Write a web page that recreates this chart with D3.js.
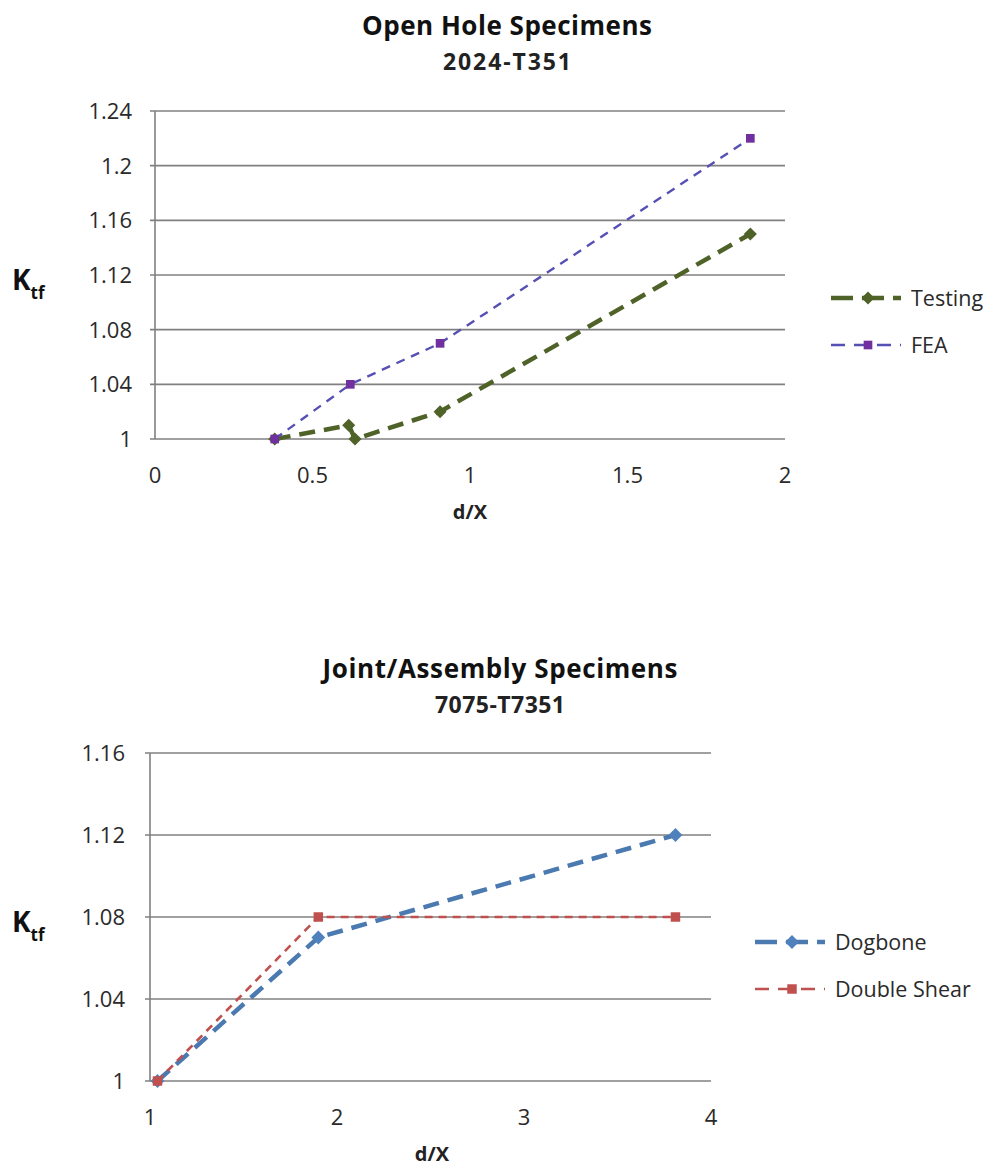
<!DOCTYPE html>
<html>
<head>
<meta charset="utf-8">
<script src="https://cdn.jsdelivr.net/npm/d3@7"></script>
<style>
  body { margin: 0; background: #fff; }
  svg { display: block; font-family: "Open Sans", Lato, sans-serif; }
</style>
</head>
<body>
<svg width="989" height="1168"></svg>
<script>
// top chart - open hole
const testingX = [0.38, 0.615, 0.635, 0.905, 1.89];
const testingY = [1.0, 1.01, 1.0, 1.02, 1.15];
const feaX = [0.38, 0.62, 0.905, 1.89];
const feaY = [1.0, 1.04, 1.07, 1.22];
const topXTicks = [0, 0.5, 1, 1.5, 2];
const topYTicks = [1, 1.04, 1.08, 1.12, 1.16, 1.2, 1.24];

// bottom chart - joints
const dogboneX = [1.04, 1.9, 3.81];
const dogboneY = [1.0, 1.07, 1.12];
const shearX = [1.04, 1.9, 3.81];
const shearY = [1.0, 1.08, 1.08];
const botXTicks = [1, 2, 3, 4];
const botYTicks = [1, 1.04, 1.08, 1.12, 1.16];

const svg = d3.select('svg');

function drawChart(opt) {
  const g = svg.append('g');
  const x = d3.scaleLinear().domain(opt.xDomain).range([opt.left, opt.right]);
  const y = d3.scaleLinear().domain(opt.yDomain).range([opt.bottom, opt.top]);

  // titles (widths)
  g.append('text').attr('x', opt.titleX).attr('y', opt.titleY)
    .attr('text-anchor', 'middle').attr('font-size', 26).attr('font-weight', 'bold')
    .attr('textLength', opt.titleW).attr('lengthAdjust', 'spacing')
    .attr('fill', '#111').text(opt.title);
  g.append('text').attr('x', opt.titleX).attr('y', opt.titleY + 35)
    .attr('text-anchor', 'middle').attr('font-size', 23).attr('font-weight', 'bold')
    .attr('textLength', opt.subW).attr('lengthAdjust', 'spacing')
    .attr('fill', '#222').text(opt.subtitle);

  // gridlines
  g.selectAll('.grid').data(opt.yTicks).enter().append('line')
    .attr('x1', opt.left - 5).attr('x2', opt.right)
    .attr('y1', d => y(d)).attr('y2', d => y(d))
    .attr('stroke', '#808080').attr('stroke-width', 1.6);

  // y axis line
  g.append('line').attr('x1', opt.left).attr('x2', opt.left)
    .attr('y1', opt.top).attr('y2', opt.bottom)
    .attr('stroke', '#808080').attr('stroke-width', 1.6);

  // y tick labels
  g.selectAll('.yl').data(opt.yTicks).enter().append('text')
    .attr('x', opt.left - opt.labelGap).attr('y', d => y(d) + 8)
    .attr('text-anchor', 'end').attr('font-size', 22).attr('fill', '#2a2a2a')
    .text(d => d3.format('~g')(d));

  // x tick labels
  g.selectAll('.xl').data(opt.xTicks).enter().append('text')
    .attr('x', d => x(d)).attr('y', opt.bottom + 44)
    .attr('text-anchor', 'middle').attr('font-size', 22).attr('fill', '#2a2a2a')
    .text(d => d3.format('~g')(d));

  // axis titles
  g.append('text').attr('x', opt.dxX).attr('y', opt.bottom + 80)
    .attr('text-anchor', 'middle').attr('font-size', 20).attr('font-weight', 'bold')
    .attr('fill', '#222').text('d/X');
  const k = g.append('text').attr('x', 12).attr('y', opt.kY)
    .attr('font-size', 28).attr('font-weight', 'bold').attr('fill', '#111');
  k.append('tspan').text('K');
  k.append('tspan').attr('font-size', 17).attr('dy', 9).text('tf');

  const line = d3.line().x(d => x(d[0])).y(d => y(d[1]));

  opt.series.forEach((s, i) => {
    const pts = s.xs.map((v, j) => [v, s.ys[j]]);
    g.append('path').datum(pts).attr('d', line)
      .attr('fill', 'none').attr('stroke', s.lineColor)
      .attr('stroke-width', s.width).attr('stroke-dasharray', s.dash);
    drawMarkers(g, pts.map(p => [x(p[0]), y(p[1])]), s);

    // legend
    const ly = opt.legendY + i * opt.legendGap;
    g.append('line').attr('x1', opt.legendX).attr('x2', opt.legendX + 70)
      .attr('y1', ly).attr('y2', ly)
      .attr('stroke', s.lineColor).attr('stroke-width', s.width)
      .attr('stroke-dasharray', s.legendDash);
    drawMarkers(g, [[opt.legendX + 37, ly]], s);
    g.append('text').attr('x', opt.legendX + 80).attr('y', ly + 8)
      .attr('font-size', 21.5).attr('fill', '#2a2a2a').text(s.name);
  });
}

function drawMarkers(g, pts, s) {
  const sym = d3.symbol().type(d3.symbolSquare).size(s.size);
  g.selectAll(null).data(pts).enter().append('path')
    .attr('d', sym)
    .attr('transform', d => `translate(${d[0]},${d[1]})` + (s.shape === 'diamond' ? ' rotate(45)' : ''))
    .attr('fill', s.markerColor);
}

drawChart({
  title: 'Open Hole Specimens', subtitle: '2024-T351', titleX: 507, titleY: 35,
  titleW: 290, subW: 128,
  left: 155, right: 785, top: 111, bottom: 439, labelGap: 23, dxX: 470,
  xDomain: [0, 2], yDomain: [1, 1.24], xTicks: topXTicks, yTicks: topYTicks,
  kY: 290, legendX: 831, legendY: 298, legendGap: 47,
  series: [
    { name: 'Testing', xs: testingX, ys: testingY, lineColor: '#4F6228', markerColor: '#4F6228',
      width: 4.5, dash: '16,9', legendDash: '22,9', shape: 'diamond', size: 85 },
    { name: 'FEA', xs: feaX, ys: feaY, lineColor: '#5650B4', markerColor: '#7030A0',
      width: 2.4, dash: '9,7', legendDash: '14,9', shape: 'square', size: 75 }
  ]
});

drawChart({
  title: 'Joint/Assembly Specimens', subtitle: '7075-T7351', titleX: 500, titleY: 678,
  titleW: 355, subW: 130,
  left: 150, right: 711, top: 753, bottom: 1081, labelGap: 25, dxX: 432,
  xDomain: [1, 4], yDomain: [1, 1.16], xTicks: botXTicks, yTicks: botYTicks,
  kY: 932, legendX: 755, legendY: 942, legendGap: 47,
  series: [
    { name: 'Dogbone', xs: dogboneX, ys: dogboneY, lineColor: '#4A7AB0', markerColor: '#4F81BD',
      width: 4.5, dash: '16,9', legendDash: '22,9', shape: 'diamond', size: 95 },
    { name: 'Double Shear', xs: shearX, ys: shearY, lineColor: '#C0504D', markerColor: '#C0504D',
      width: 2.6, dash: '8,6', legendDash: '14,9', shape: 'square', size: 90 }
  ]
});
</script>
</body>
</html>
